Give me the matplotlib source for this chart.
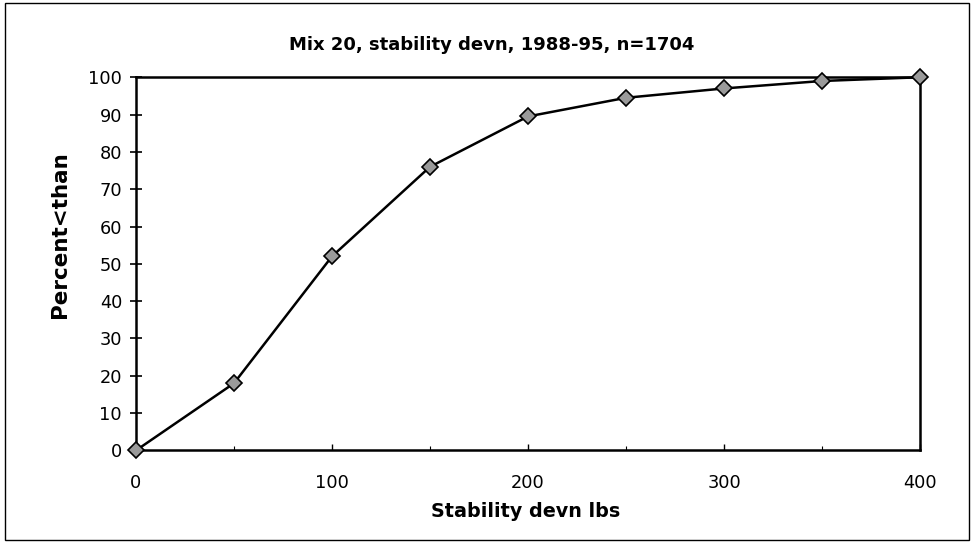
import matplotlib
matplotlib.use("Agg")
import matplotlib.pyplot as plt
from matplotlib.patches import Rectangle
from matplotlib.ticker import MultipleLocator

plt.rcParams['font.family'] = ['DejaVu Sans']

# Cumulative distribution of stability deviation
devn_lbs = [0, 50, 100, 150, 200, 250, 300, 350, 400]
pct_less_than = [0, 18, 52, 76, 89.5, 94.5, 97, 99, 100]

x_ticks = [0, 100, 200, 300, 400]
y_ticks = [0, 10, 20, 30, 40, 50, 60, 70, 80, 90, 100]

title_text = 'Mix 20, stability devn, 1988-95, n=1704'
x_label = 'Stability devn lbs'
y_label = 'Percent<than'

fig = plt.figure(figsize=(9.74, 5.44), dpi=100)
ax = fig.add_axes([0.1396, 0.172, 0.805, 0.686])

ax.plot(devn_lbs, pct_less_than, color='black', linewidth=1.8,
        marker='D', markersize=8, markerfacecolor='#9a9a9a',
        markeredgecolor='black', markeredgewidth=1.2, clip_on=False, zorder=3)

ax.set_xlim(0, 400)
ax.set_ylim(0, 100)
ax.set_xticks(x_ticks)
ax.set_yticks(y_ticks)
ax.xaxis.set_minor_locator(MultipleLocator(50))

for side in ['left', 'bottom', 'top', 'right']:
    ax.spines[side].set_linewidth(1.8)
    ax.spines[side].set_color('black')

ax.tick_params(axis='y', direction='inout', length=8, width=1.2, labelsize=12.8, pad=6)
ax.tick_params(axis='x', which='major', direction='in', length=4, width=1.0,
               labelsize=12.8, pad=17)
ax.tick_params(axis='x', which='minor', direction='in', length=3, width=0.8)

fig.text(0.505, 0.917, title_text, ha='center', va='center',
         fontsize=13, fontweight='bold')
fig.text(0.540, 0.059, x_label, ha='center', va='center',
         fontsize=13.8, fontweight='bold')
fig.text(0.062, 0.568, y_label, ha='center', va='center', rotation=90,
         fontsize=15.5, fontweight='bold')

# Outer chart border
fig.patches.append(Rectangle((0.005, 0.008), 0.990, 0.987, transform=fig.transFigure,
                             fill=False, edgecolor='black', linewidth=1.0))

fig.savefig('out.png', dpi=100)
